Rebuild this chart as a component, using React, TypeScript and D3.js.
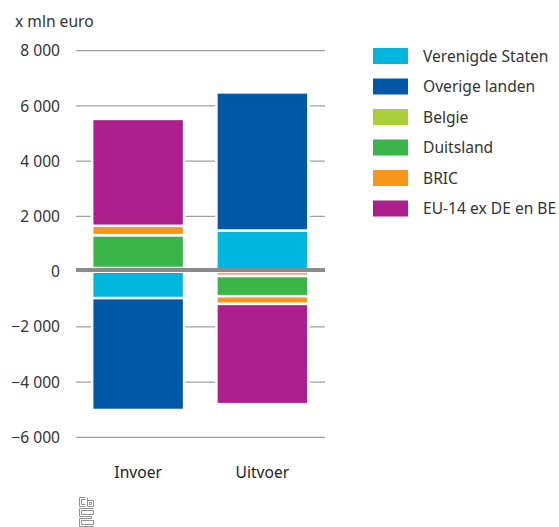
import React from "react";
import * as d3 from "d3";

// Trade balance by partner region, x mln euro
const categories = ["Invoer", "Uitvoer"];
const seriesNames = [
  "Verenigde Staten",
  "Overige landen",
  "Belgie",
  "Duitsland",
  "BRIC",
  "EU-14 ex DE en BE",
];
const verenigdeStaten = [-960, 1490];
const overigeLanden = [-4050, 5000];
const belgie = [130, -160];
const duitsland = [1190, -730];
const bric = [340, -280];
const eu14 = [3870, -3630];
const yTicks = [-6000, -4000, -2000, 0, 2000, 4000, 6000, 8000];
const unitLabel = "x mln euro";

const seriesColors = ["#00b5de", "#0058a8", "#a8cf3a", "#3bb44a", "#f7961c", "#ae1f8e"];
// the thin negative Belgie sliver is rendered in a salmon tint
const sliverTint = "#f29a7c";

const W = 559;
const H = 527;
const FONT = "'Noto Sans', 'DejaVu Sans', sans-serif";
const FS = 15.6;

const locale = d3.formatLocale({
  decimal: ",",
  thousands: " ",
  grouping: [3],
  currency: ["", ""],
  minus: "\u2212",
});
const fmt = locale.format(",d");

export default function App() {
  const valuesBySeries = [verenigdeStaten, overigeLanden, belgie, duitsland, bric, eu14];
  const rows = categories.map((c, i) => {
    const r: Record<string, number | string> = { category: c };
    seriesNames.forEach((s, k) => {
      r[s] = valuesBySeries[k][i];
    });
    return r;
  });

  const stack = d3
    .stack<Record<string, number | string>>()
    .keys(seriesNames)
    .value((d, key) => d[key] as number)
    .offset(d3.stackOffsetDiverging);
  const stacked = stack(rows);

  const y = d3.scaleLinear().domain([-6000, 8000]).range([437.3, 50.7]);
  const x = d3
    .scaleBand<string>()
    .domain(categories)
    .range([76, 324.5])
    .paddingInner(0.26)
    .paddingOuter(0.13);

  const gridX1 = 76;
  const gridX2 = 325;

  return (
    <svg
      width={W}
      height={H}
      style={{ position: "absolute", left: 0, top: 0, background: "#fff" }}
      fontFamily={FONT}
    >
      <text x={15} y={27} fontSize={FS} fill="#333">
        {unitLabel}
      </text>

      {/* grid */}
      {yTicks
        .filter((t) => t !== 0)
        .map((t) => (
          <line
            key={t}
            x1={gridX1}
            x2={gridX2}
            y1={y(t)}
            y2={y(t)}
            stroke="#a0a0a0"
            strokeWidth={1.3}
          />
        ))}
      {yTicks.map((t) => (
        <text
          key={"l" + t}
          x={60}
          y={y(t)}
          dy="0.36em"
          textAnchor="end"
          fontSize={FS}
          fill="#333"
        >
          {fmt(t)}
        </text>
      ))}

      {/* stacked bars */}
      {stacked.map((layer, si) =>
        layer.map((seg, ci) => {
          const y0 = y(seg[0]);
          const y1 = y(seg[1]);
          const cat = categories[ci];
          const fill =
            seriesNames[si] === "Belgie" && valuesBySeries[si][ci] < 0
              ? sliverTint
              : seriesColors[si];
          return (
            <rect
              key={si + "-" + ci}
              x={x(cat)}
              width={x.bandwidth()}
              y={Math.min(y0, y1)}
              height={Math.abs(y0 - y1)}
              fill={fill}
              stroke="#fff"
              strokeWidth={2.5}
            />
          );
        })
      )}

      {/* zero line */}
      <line
        x1={gridX1}
        x2={gridX2}
        y1={y(0) - 1.7}
        y2={y(0) - 1.7}
        stroke="#8a8a8a"
        strokeWidth={4}
      />

      {/* category labels */}
      {categories.map((c) => (
        <text
          key={c}
          x={(x(c) as number) + x.bandwidth() / 2}
          y={478}
          textAnchor="middle"
          fontSize={FS}
          fill="#222"
        >
          {c}
        </text>
      ))}

      {/* legend */}
      {seriesNames.map((s, i) => {
        const cy = 56 + i * 30.5;
        return (
          <g key={s}>
            <rect x={373} y={cy - 8} width={35} height={16} fill={seriesColors[i]} />
            <text x={423} y={cy} dy="0.36em" fontSize={FS} fill="#333">
              {s}
            </text>
          </g>
        );
      })}

      {/* logo mark */}
      <g transform="translate(79.5,497.5)" fill="none" stroke="#909090" strokeWidth={1}>
        <path d="M6,0 H0 V9 H6 M6,2 H2 V7 H6" />
        <path d="M8,0 V9 H14 V3 H8 M10,5 V7 H12 V5 Z" />
        <path d="M14,11 H0 V19 H12 V21 H0 V29 H14 M2,13 H14 V17 H2 V13 M14,23 H2 V27 H14 Z" />
      </g>
    </svg>
  );
}
